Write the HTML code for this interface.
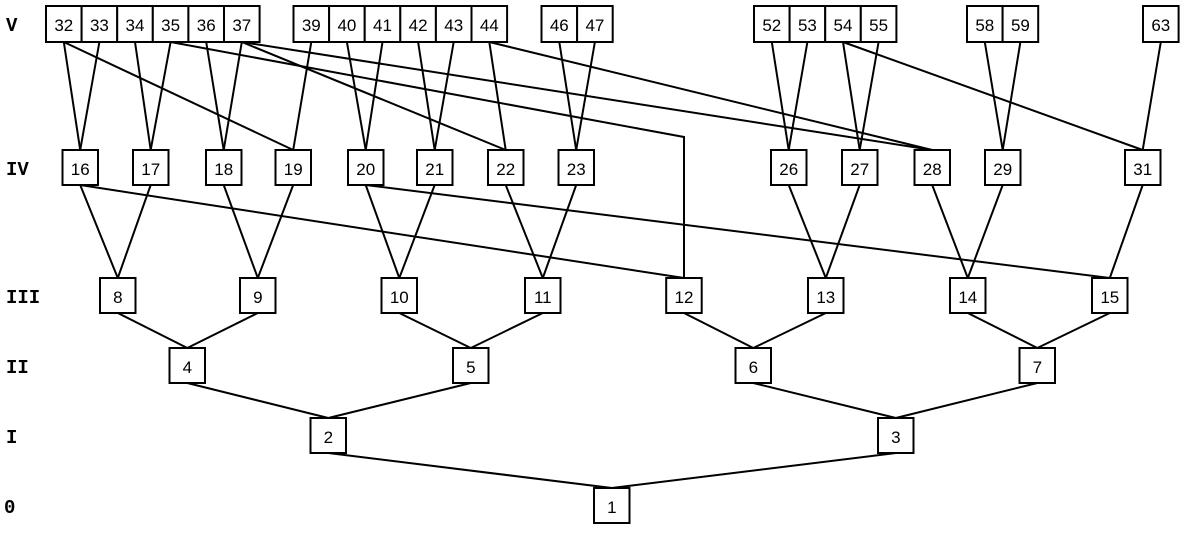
<!DOCTYPE html>
<html><head><meta charset="utf-8"><style>
html,body{margin:0;padding:0;background:#fff;}
svg{display:block;}
.b{fill:#fff;stroke:#000;stroke-width:2;}
.t{font-family:"Liberation Sans",sans-serif;font-size:17px;text-anchor:middle;}
.l{font-family:"Liberation Mono",monospace;font-size:19px;font-weight:bold;}
line,polyline{stroke:#000;stroke-width:2;fill:none;}
</style></head><body>
<svg width="1185" height="534" viewBox="0 0 1185 534" xmlns="http://www.w3.org/2000/svg">
<g>
<line x1="63.8" y1="42" x2="80.2" y2="150"/>
<line x1="99.4" y1="42" x2="80.2" y2="150"/>
<line x1="63.8" y1="42" x2="293.2" y2="150"/>
<line x1="135" y1="42" x2="150.7" y2="150"/>
<line x1="170.6" y1="42" x2="150.7" y2="150"/>
<polyline points="170.6,42 684,137 684,278"/>
<line x1="206.2" y1="42" x2="223.7" y2="150"/>
<line x1="241.8" y1="42" x2="223.7" y2="150"/>
<line x1="241.8" y1="42" x2="505.7" y2="150"/>
<line x1="241.8" y1="42" x2="932.2" y2="150"/>
<line x1="311.3" y1="42" x2="293.2" y2="150"/>
<line x1="346.9" y1="42" x2="365.7" y2="150"/>
<line x1="382.5" y1="42" x2="365.7" y2="150"/>
<line x1="418.1" y1="42" x2="434.7" y2="150"/>
<line x1="453.7" y1="42" x2="434.7" y2="150"/>
<line x1="489.3" y1="42" x2="505.7" y2="150"/>
<line x1="489.3" y1="42" x2="932.2" y2="150"/>
<line x1="559.3" y1="42" x2="576.2" y2="150"/>
<line x1="594.9" y1="42" x2="576.2" y2="150"/>
<line x1="771.8" y1="42" x2="788.7" y2="150"/>
<line x1="807.4" y1="42" x2="788.7" y2="150"/>
<line x1="843" y1="42" x2="859.7" y2="150"/>
<line x1="878.6" y1="42" x2="859.7" y2="150"/>
<line x1="843" y1="42" x2="1142.7" y2="150"/>
<line x1="984.8" y1="42" x2="1002.7" y2="150"/>
<line x1="1020.4" y1="42" x2="1002.7" y2="150"/>
<line x1="1160.8" y1="42" x2="1142.7" y2="150"/>
<line x1="80.2" y1="185" x2="117.8" y2="278"/>
<line x1="150.7" y1="185" x2="117.8" y2="278"/>
<line x1="80.2" y1="185" x2="684" y2="278"/>
<line x1="223.7" y1="185" x2="257.8" y2="278"/>
<line x1="293.2" y1="185" x2="257.8" y2="278"/>
<line x1="365.7" y1="185" x2="399.3" y2="278"/>
<line x1="434.7" y1="185" x2="399.3" y2="278"/>
<line x1="365.7" y1="185" x2="1109.8" y2="278"/>
<line x1="505.7" y1="185" x2="542.8" y2="278"/>
<line x1="576.2" y1="185" x2="542.8" y2="278"/>
<line x1="788.7" y1="185" x2="825.8" y2="278"/>
<line x1="859.7" y1="185" x2="825.8" y2="278"/>
<line x1="932.2" y1="185" x2="967.8" y2="278"/>
<line x1="1002.7" y1="185" x2="967.8" y2="278"/>
<line x1="1142.7" y1="185" x2="1109.8" y2="278"/>
<line x1="117.8" y1="313" x2="187.3" y2="348"/>
<line x1="257.8" y1="313" x2="187.3" y2="348"/>
<line x1="399.3" y1="313" x2="470.8" y2="348"/>
<line x1="542.8" y1="313" x2="470.8" y2="348"/>
<line x1="684" y1="313" x2="753.3" y2="348"/>
<line x1="825.8" y1="313" x2="753.3" y2="348"/>
<line x1="967.8" y1="313" x2="1037.3" y2="348"/>
<line x1="1109.8" y1="313" x2="1037.3" y2="348"/>
<line x1="187.3" y1="383" x2="328.3" y2="418"/>
<line x1="470.8" y1="383" x2="328.3" y2="418"/>
<line x1="753.3" y1="383" x2="895.8" y2="418"/>
<line x1="1037.3" y1="383" x2="895.8" y2="418"/>
<line x1="328.3" y1="453" x2="611.8" y2="488"/>
<line x1="895.8" y1="453" x2="611.8" y2="488"/>
</g>
<g>
<rect class="b" x="46" y="6" width="35.6" height="36"/><text class="t" x="63.8" y="31">32</text>
<rect class="b" x="81.6" y="6" width="35.6" height="36"/><text class="t" x="99.4" y="31">33</text>
<rect class="b" x="117.2" y="6" width="35.6" height="36"/><text class="t" x="135" y="31">34</text>
<rect class="b" x="152.8" y="6" width="35.6" height="36"/><text class="t" x="170.6" y="31">35</text>
<rect class="b" x="188.4" y="6" width="35.6" height="36"/><text class="t" x="206.2" y="31">36</text>
<rect class="b" x="224" y="6" width="35.6" height="36"/><text class="t" x="241.8" y="31">37</text>
<rect class="b" x="293.5" y="6" width="35.6" height="36"/><text class="t" x="311.3" y="31">39</text>
<rect class="b" x="329.1" y="6" width="35.6" height="36"/><text class="t" x="346.9" y="31">40</text>
<rect class="b" x="364.7" y="6" width="35.6" height="36"/><text class="t" x="382.5" y="31">41</text>
<rect class="b" x="400.3" y="6" width="35.6" height="36"/><text class="t" x="418.1" y="31">42</text>
<rect class="b" x="435.9" y="6" width="35.6" height="36"/><text class="t" x="453.7" y="31">43</text>
<rect class="b" x="471.5" y="6" width="35.6" height="36"/><text class="t" x="489.3" y="31">44</text>
<rect class="b" x="541.5" y="6" width="35.6" height="36"/><text class="t" x="559.3" y="31">46</text>
<rect class="b" x="577.1" y="6" width="35.6" height="36"/><text class="t" x="594.9" y="31">47</text>
<rect class="b" x="754" y="6" width="35.6" height="36"/><text class="t" x="771.8" y="31">52</text>
<rect class="b" x="789.6" y="6" width="35.6" height="36"/><text class="t" x="807.4" y="31">53</text>
<rect class="b" x="825.2" y="6" width="35.6" height="36"/><text class="t" x="843" y="31">54</text>
<rect class="b" x="860.8" y="6" width="35.6" height="36"/><text class="t" x="878.6" y="31">55</text>
<rect class="b" x="967" y="6" width="35.6" height="36"/><text class="t" x="984.8" y="31">58</text>
<rect class="b" x="1002.6" y="6" width="35.6" height="36"/><text class="t" x="1020.4" y="31">59</text>
<rect class="b" x="1143" y="6" width="35.6" height="36"/><text class="t" x="1160.8" y="31">63</text>
<rect class="b" x="62.5" y="150" width="35.5" height="35"/><text class="t" x="80.2" y="175">16</text>
<rect class="b" x="133" y="150" width="35.5" height="35"/><text class="t" x="150.7" y="175">17</text>
<rect class="b" x="206" y="150" width="35.5" height="35"/><text class="t" x="223.7" y="175">18</text>
<rect class="b" x="275.5" y="150" width="35.5" height="35"/><text class="t" x="293.2" y="175">19</text>
<rect class="b" x="348" y="150" width="35.5" height="35"/><text class="t" x="365.7" y="175">20</text>
<rect class="b" x="417" y="150" width="35.5" height="35"/><text class="t" x="434.7" y="175">21</text>
<rect class="b" x="488" y="150" width="35.5" height="35"/><text class="t" x="505.7" y="175">22</text>
<rect class="b" x="558.5" y="150" width="35.5" height="35"/><text class="t" x="576.2" y="175">23</text>
<rect class="b" x="771" y="150" width="35.5" height="35"/><text class="t" x="788.7" y="175">26</text>
<rect class="b" x="842" y="150" width="35.5" height="35"/><text class="t" x="859.7" y="175">27</text>
<rect class="b" x="914.5" y="150" width="35.5" height="35"/><text class="t" x="932.2" y="175">28</text>
<rect class="b" x="985" y="150" width="35.5" height="35"/><text class="t" x="1002.7" y="175">29</text>
<rect class="b" x="1125" y="150" width="35.5" height="35"/><text class="t" x="1142.7" y="175">31</text>
<rect class="b" x="100" y="278" width="35.5" height="35"/><text class="t" x="117.8" y="303">8</text>
<rect class="b" x="240" y="278" width="35.5" height="35"/><text class="t" x="257.8" y="303">9</text>
<rect class="b" x="381.5" y="278" width="35.5" height="35"/><text class="t" x="399.3" y="303">10</text>
<rect class="b" x="525" y="278" width="35.5" height="35"/><text class="t" x="542.8" y="303">11</text>
<rect class="b" x="666.2" y="278" width="35.5" height="35"/><text class="t" x="684" y="303">12</text>
<rect class="b" x="808" y="278" width="35.5" height="35"/><text class="t" x="825.8" y="303">13</text>
<rect class="b" x="950" y="278" width="35.5" height="35"/><text class="t" x="967.8" y="303">14</text>
<rect class="b" x="1092" y="278" width="35.5" height="35"/><text class="t" x="1109.8" y="303">15</text>
<rect class="b" x="169.5" y="348" width="35.5" height="35"/><text class="t" x="187.3" y="373">4</text>
<rect class="b" x="453" y="348" width="35.5" height="35"/><text class="t" x="470.8" y="373">5</text>
<rect class="b" x="735.5" y="348" width="35.5" height="35"/><text class="t" x="753.3" y="373">6</text>
<rect class="b" x="1019.5" y="348" width="35.5" height="35"/><text class="t" x="1037.3" y="373">7</text>
<rect class="b" x="310.5" y="418" width="35.5" height="35"/><text class="t" x="328.3" y="443">2</text>
<rect class="b" x="878" y="418" width="35.5" height="35"/><text class="t" x="895.8" y="443">3</text>
<rect class="b" x="594" y="488" width="35.5" height="35"/><text class="t" x="611.8" y="513">1</text>
</g>
<text class="l" x="6" y="31">V</text>
<text class="l" x="6" y="175">IV</text>
<text class="l" x="6" y="303">III</text>
<text class="l" x="6" y="373">II</text>
<text class="l" x="6" y="443">I</text>
<text class="l" x="4" y="513">0</text>
</svg>
</body></html>
